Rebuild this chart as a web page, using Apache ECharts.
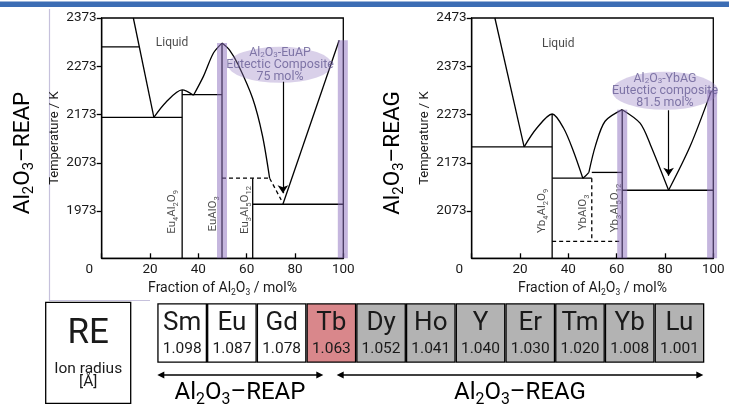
<!DOCTYPE html>
<html><head><meta charset="utf-8">
<script src="https://cdn.jsdelivr.net/npm/echarts@6/dist/echarts.min.js"></script>
<style>html,body{margin:0;padding:0;background:#fff}#c{width:735px;height:407px}</style>
</head><body><div id="c"></div>
<script>
// ================= DATA =================
const xLabels = [0, 20, 40, 60, 80, 100];
const reapTempTicks = [1973, 2073, 2173, 2273, 2373];
const reagTempTicks = [2073, 2173, 2273, 2373, 2473];
const reapTempRange = [1875, 2373];
const reagTempRange = [1975, 2473];

// Al2O3–REAP (Eu2O3–Al2O3) boundaries: [mol% Al2O3, K]
const reapLiquidusRE   = [[13.1, 2373], [21.6, 2167]];
const reapTransition   = [[0, 2313], [15.6, 2313]];
const reapEutectic1    = [[0, 2167], [33.3, 2167]];
const reapDome1        = [[21.6, 2167], [26.5, 2198], [33.3, 2224], [38, 2213]];
const reapDome2        = [[38, 2213], [42.1, 2252], [46.2, 2300], [49.8, 2321]];
const reapDome2Right   = [[49.8, 2321], [53, 2306], [56.5, 2276], [62.5, 2206], [66.5, 2130], [69.5, 2041]];
const reapPeritectic   = [[33.3, 2214], [49.8, 2214]];
const reapMetaLine     = [[49.8, 2041], [69.5, 2041]];
const reapMetaLiquidus = [[69.5, 2041], [74.3, 1996]];
const reapEutectic2    = [[62.5, 1987], [100, 1987]];
const reapLiquidusAl   = [[75, 1987], [98.3, 2327]];
const reapCompounds    = [[[33.3, 2224], [33.3, 1875]], [[49.8, 2321], [49.8, 1875]], [[62.5, 2041], [62.5, 1875]]];
const reapBands        = [[[49.8, 2321], [49.8, 1875]], [[99.8, 2327], [99.8, 1875]]];
const reapArrow        = [[75, 2241], [75, 2010]];
const reapEllipseAt    = [73.8, 2276];
const reapLiquidAt     = [29.1, 2321];
const reapPhaseLabels  = [
  { at: [29.1, 1971], parts: [['Eu'], ['4', 1], ['Al'], ['2', 1], ['O'], ['9', 1]] },
  { at: [46.1, 1967], parts: [['EuAlO'], ['3', 1]] },
  { at: [59.3, 1975], parts: [['Eu'], ['3', 1], ['Al'], ['5', 1], ['O'], ['12', 1]] }
];
const reapEllipseText = ['{t|Al}{s|2}{t|O}{s|3}{t|-EuAP}', '{t|Eutectic Composite}', '{t|75 mol%}'];

// Al2O3–REAG (Yb2O3–Al2O3) boundaries
const reagLiquidusRE   = [[9.6, 2473], [21.7, 2206]];
const reagEutectic1    = [[0, 2206], [33.3, 2206]];
const reagDome1        = [[21.7, 2206], [26.8, 2244], [33.3, 2274], [38, 2245], [42.1, 2197], [46, 2141]];
const reagHook         = [[46, 2141], [47.2, 2146], [48.5, 2153]];
const reagDome2        = [[48.5, 2153], [51.2, 2208], [55.2, 2259], [62.3, 2283]];
const reagDome2Right   = [[62.3, 2283], [69.7, 2255], [74, 2210], [81.5, 2116]];
const reagLiquidusAl   = [[81.5, 2116], [90.4, 2207], [99.2, 2322]];
const reagLowerLine    = [[33.3, 2141], [49.7, 2141]];
const reagUpperLine    = [[49.7, 2153], [62.3, 2153]];
const reagEutectic2    = [[62.3, 2116], [100, 2116]];
const reagCompounds    = [[[33.3, 2274], [33.3, 1975]], [[62.3, 2283], [62.3, 1975]]];
const reagDashed       = [[[49.7, 2141], [49.7, 2010]], [[33.3, 2010], [62, 2010]]];
const reagBands        = [[[62.3, 2283], [62.3, 1975]], [[99.5, 2324], [99.5, 1975]]];
const reagArrow        = [[81.5, 2282], [81.5, 2146]];
const reagEllipseAt    = [80, 2322];
const reagLiquidAt     = [35.8, 2420];
const reagPhaseLabels  = [
  { at: [29.1, 2073], parts: [['Yb'], ['4', 1], ['Al'], ['2', 1], ['O'], ['9', 1]] },
  { at: [46.2, 2070], parts: [['YbAlO'], ['3', 1]] },
  { at: [59.3, 2079], parts: [['Yb'], ['3', 1], ['Al'], ['5', 1], ['O'], ['12', 1]] }
];
const reagEllipseText = ['{t|Al}{s|2}{t|O}{s|3}{t|-YbAG}', '{t|Eutectic composite}', '{t|81.5 mol%}'];

// Rare-earth table
const elements   = ['Sm', 'Eu', 'Gd', 'Tb', 'Dy', 'Ho', 'Y', 'Er', 'Tm', 'Yb', 'Lu'];
const ionRadius  = ['1.098', '1.087', '1.078', '1.063', '1.052', '1.041', '1.040', '1.030', '1.020', '1.008', '1.001'];
const cellGroup  = ['w', 'w', 'w', 'r', 'g', 'g', 'g', 'g', 'g', 'g', 'g'];

// ================= STYLE =================
const FONT = 'Roboto';
const INK = '#1a1a1a';
const BAND = 'rgba(140,110,190,0.5)';
const ELL = 'rgba(150,125,195,0.45)';
const LW = 1.3;
const groupColor = { w: '#ffffff', r: '#d9878b', g: '#b3b3b3' };

const chart = echarts.init(document.getElementById('c'), null, { renderer: 'canvas' });

const subRich = (fs, sub) => ({
  n: { fontSize: fs, lineHeight: fs + 4, fontFamily: FONT, color: INK },
  b: { fontSize: sub, lineHeight: sub, verticalAlign: 'bottom', fontFamily: FONT, color: INK }
});

function lineS(data, g, extra) {
  return Object.assign({
    type: 'line', xAxisIndex: g, yAxisIndex: g, data: data, symbol: 'none', showSymbol: false,
    silent: true, animation: false, clip: false, z: 3,
    lineStyle: { color: '#000', width: LW }
  }, extra || {});
}
function smoothS(data, g) { return lineS(data, g, { smooth: 0.3 }); }
function dashS(data, g) { return lineS(data, g, { lineStyle: { color: '#000', width: LW, type: [4, 3] } }); }
function bandS(data, g) { return lineS(data, g, { z: 5, lineStyle: { color: BAND, width: 10, cap: 'butt' } }); }

function partsToRich(parts) {
  return parts.map(p => p[1] ? '{b|' + p[0] + '}' : '{n|' + p[0] + '}').join('');
}
function phaseLabelS(list, g) {
  return {
    type: 'scatter', xAxisIndex: g, yAxisIndex: g, symbolSize: 0, silent: true, animation: false, z: 2,
    data: list.map(l => ({ value: l.at, label: { formatter: partsToRich(l.parts) } })),
    label: { show: true, position: 'inside', rotate: 90, align: 'center', verticalAlign: 'middle', rich: subRich(11.5, 7.5) }
  };
}
function ellipseS(at, lines, g, size) {
  return {
    type: 'scatter', xAxisIndex: g, yAxisIndex: g, symbol: 'circle', symbolSize: size, silent: true, animation: false, z: 6,
    itemStyle: { color: ELL },
    data: [{ value: at }],
    label: {
      show: true, position: 'inside', formatter: lines.join('\n'),
      rich: {
        t: { fontSize: 12.4, lineHeight: 12, fontFamily: FONT, color: '#675c95' },
        s: { fontSize: 8, lineHeight: 7, verticalAlign: 'bottom', fontFamily: FONT, color: '#675c95' }
      }
    }
  };
}
function textS(at, txt, g) {
  return {
    type: 'scatter', xAxisIndex: g, yAxisIndex: g, symbolSize: 0, silent: true, animation: false, z: 2,
    data: [{ value: at }],
    label: { show: true, position: 'inside', formatter: txt, fontSize: 12, fontFamily: FONT, color: INK }
  };
}
function arrowS(coords, g) {
  return {
    type: 'lines', coordinateSystem: 'cartesian2d', xAxisIndex: g, yAxisIndex: g, silent: true, animation: false, z: 7,
    symbol: ['none', 'arrow'], symbolSize: 8,
    lineStyle: { color: '#000', width: 1.2, opacity: 1 },
    data: [{ coords: coords }]
  };
}

function xAxisFor(g) {
  return {
    gridIndex: g, type: 'value', min: 0, max: 100, interval: 20,
    axisLine: { lineStyle: { color: '#000', width: LW } },
    axisTick: { inside: true, length: 5, lineStyle: { color: '#000', width: LW }, customValues: xLabels },
    axisLabel: {
      customValues: xLabels, margin: 4, fontSize: 13.5, fontFamily: FONT, color: INK,
      formatter: v => v === 0 ? '{z|0}' : '{d|' + v + '}',
      rich: { z: { fontSize: 13.5, fontFamily: FONT, color: INK, padding: [0, 25, 0, 0] }, d: { fontSize: 13.5, fontFamily: FONT, color: INK } }
    },
    splitLine: { show: false },
    name: '{n|Fraction of Al}{b|2}{n|O}{b|3}{n| / mol%}', nameLocation: 'middle', nameGap: 18,
    nameTextStyle: { rich: subRich(14, 8.5) }
  };
}
function yAxisFor(g, range, ticks) {
  return {
    gridIndex: g, type: 'value', min: range[0], max: range[1],
    axisLine: { show: true, lineStyle: { color: '#000', width: LW } },
    axisTick: { show: true, length: 5, lineStyle: { color: '#000', width: LW }, customValues: ticks },
    axisLabel: { customValues: ticks, margin: 5, fontSize: 13.5, fontFamily: FONT, color: INK, formatter: v => String(v) },
    splitLine: { show: false },
    name: 'Temperature / K', nameLocation: 'middle', nameGap: 40,
    nameTextStyle: { fontSize: 13, fontFamily: FONT, color: INK }
  };
}

const series = [];
// REAP
[reapLiquidusRE, reapTransition, reapEutectic1, reapPeritectic, reapEutectic2, reapLiquidusAl].forEach(d => series.push(lineS(d, 0)));
[reapDome1, reapDome2, reapDome2Right].forEach(d => series.push(smoothS(d, 0)));
reapCompounds.forEach(d => series.push(lineS(d, 0)));
[reapMetaLine, reapMetaLiquidus].forEach(d => series.push(dashS(d, 0)));
reapBands.forEach(d => series.push(bandS(d, 0)));
series.push(phaseLabelS(reapPhaseLabels, 0));
series.push(ellipseS(reapEllipseAt, reapEllipseText, 0, [104, 36]));
series.push(textS(reapLiquidAt, 'Liquid', 0));
series.push(arrowS(reapArrow, 0));
// REAG
[reagLiquidusRE, reagEutectic1, reagLowerLine, reagUpperLine, reagEutectic2].forEach(d => series.push(lineS(d, 1)));
[reagDome1, reagHook, reagDome2, reagDome2Right, reagLiquidusAl].forEach(d => series.push(smoothS(d, 1)));
reagCompounds.forEach(d => series.push(lineS(d, 1)));
reagDashed.forEach(d => series.push(dashS(d, 1)));
reagBands.forEach(d => series.push(bandS(d, 1)));
series.push(phaseLabelS(reagPhaseLabels, 1));
series.push(ellipseS(reagEllipseAt, reagEllipseText, 1, [106, 38]));
series.push(textS(reagLiquidAt, 'Liquid', 1));
series.push(arrowS(reagArrow, 1));
// Table
series.push({
  type: 'bar', xAxisIndex: 2, yAxisIndex: 2, barWidth: '100%', silent: true, animation: false,
  data: elements.map((e, i) => ({ value: 1, itemStyle: { color: groupColor[cellGroup[i]] } })),
  itemStyle: { borderColor: '#000', borderWidth: LW },
  label: {
    show: true, position: 'inside', offset: [0, 1],
    formatter: p => '{s|' + elements[p.dataIndex] + '}\n{v|' + ionRadius[p.dataIndex] + '}',
    rich: {
      s: { fontSize: 26, lineHeight: 30, fontFamily: FONT, color: INK },
      v: { fontSize: 15.5, lineHeight: 22, fontFamily: FONT, color: INK }
    }
  }
});

function arrowGraphic(x1, x2, y) {
  const h = 7, w = 3.6;
  return [
    { type: 'line', shape: { x1: x1 + 4, y1: y, x2: x2 - 4, y2: y }, style: { stroke: '#000', lineWidth: 1.5 } },
    { type: 'polygon', shape: { points: [[x1, y], [x1 + h, y - w], [x1 + h, y + w]] }, style: { fill: '#000' } },
    { type: 'polygon', shape: { points: [[x2, y], [x2 - h, y - w], [x2 - h, y + w]] }, style: { fill: '#000' } }
  ];
}
const bigRich = fs => ({
  n: { fontSize: fs, lineHeight: fs + 6, fontFamily: FONT, color: INK },
  b: { fontSize: fs * 0.66, lineHeight: fs * 0.66, verticalAlign: 'bottom', fontFamily: FONT, color: INK }
});

const graphic = [
  { type: 'rect', shape: { x: 0, y: 1.5, width: 729, height: 5.5 }, style: { fill: '#3c6db4' } },
  { type: 'polyline', shape: { points: [[49.5, 9], [49.5, 300.5], [150, 300.5]] }, style: { stroke: '#c6c1dc', lineWidth: 1.2, fill: null } },
  { type: 'text', x: 23, y: 153, rotation: Math.PI / 2, style: { text: '{n|Al}{b|2}{n|O}{b|3}{n|–REAP}', align: 'center', verticalAlign: 'middle', rich: bigRich(22.5) } },
  { type: 'text', x: 393, y: 153, rotation: Math.PI / 2, style: { text: '{n|Al}{b|2}{n|O}{b|3}{n|–REAG}', align: 'center', verticalAlign: 'middle', rich: bigRich(22.5) } },
  { type: 'rect', shape: { x: 45.7, y: 302.3, width: 85, height: 101 }, style: { fill: '#fff', stroke: '#000', lineWidth: LW } },
  { type: 'text', x: 88.2, y: 334, style: { text: 'RE', align: 'center', verticalAlign: 'middle', fontSize: 35, fontFamily: FONT, fill: INK } },
  { type: 'text', x: 88.2, y: 369, style: { text: 'Ion radius', align: 'center', verticalAlign: 'middle', fontSize: 15.5, fontFamily: FONT, fill: INK } },
  { type: 'text', x: 88.2, y: 382.5, style: { text: '[Å]', align: 'center', verticalAlign: 'middle', fontSize: 15.5, fontFamily: FONT, fill: INK } },
  { type: 'text', x: 240, y: 393, style: { text: '{n|Al}{b|2}{n|O}{b|3}{n|–REAP}', align: 'center', verticalAlign: 'middle', rich: bigRich(24) } },
  { type: 'text', x: 520, y: 393, style: { text: '{n|Al}{b|2}{n|O}{b|3}{n|–REAG}', align: 'center', verticalAlign: 'middle', rich: bigRich(24) } }
].concat(arrowGraphic(157.3, 323.3, 375), arrowGraphic(336.7, 703.3, 375));

const option = {
  animation: false,
  backgroundColor: '#fff',
  grid: [
    { left: 101.7, top: 18, width: 241.6, height: 240.3, show: true, borderColor: '#000', borderWidth: LW, containLabel: false },
    { left: 471.7, top: 18, width: 241.6, height: 240.3, show: true, borderColor: '#000', borderWidth: LW, containLabel: false },
    { left: 157.3, top: 303.3, width: 547, height: 59.4, containLabel: false }
  ],
  xAxis: [
    xAxisFor(0), xAxisFor(1),
    { gridIndex: 2, type: 'category', data: elements, show: false }
  ],
  yAxis: [
    yAxisFor(0, reapTempRange, reapTempTicks),
    yAxisFor(1, reagTempRange, reagTempTicks),
    { gridIndex: 2, type: 'value', min: 0, max: 1, show: false }
  ],
  series: series,
  graphic: graphic
};
chart.setOption(option);
</script>
</body></html>
